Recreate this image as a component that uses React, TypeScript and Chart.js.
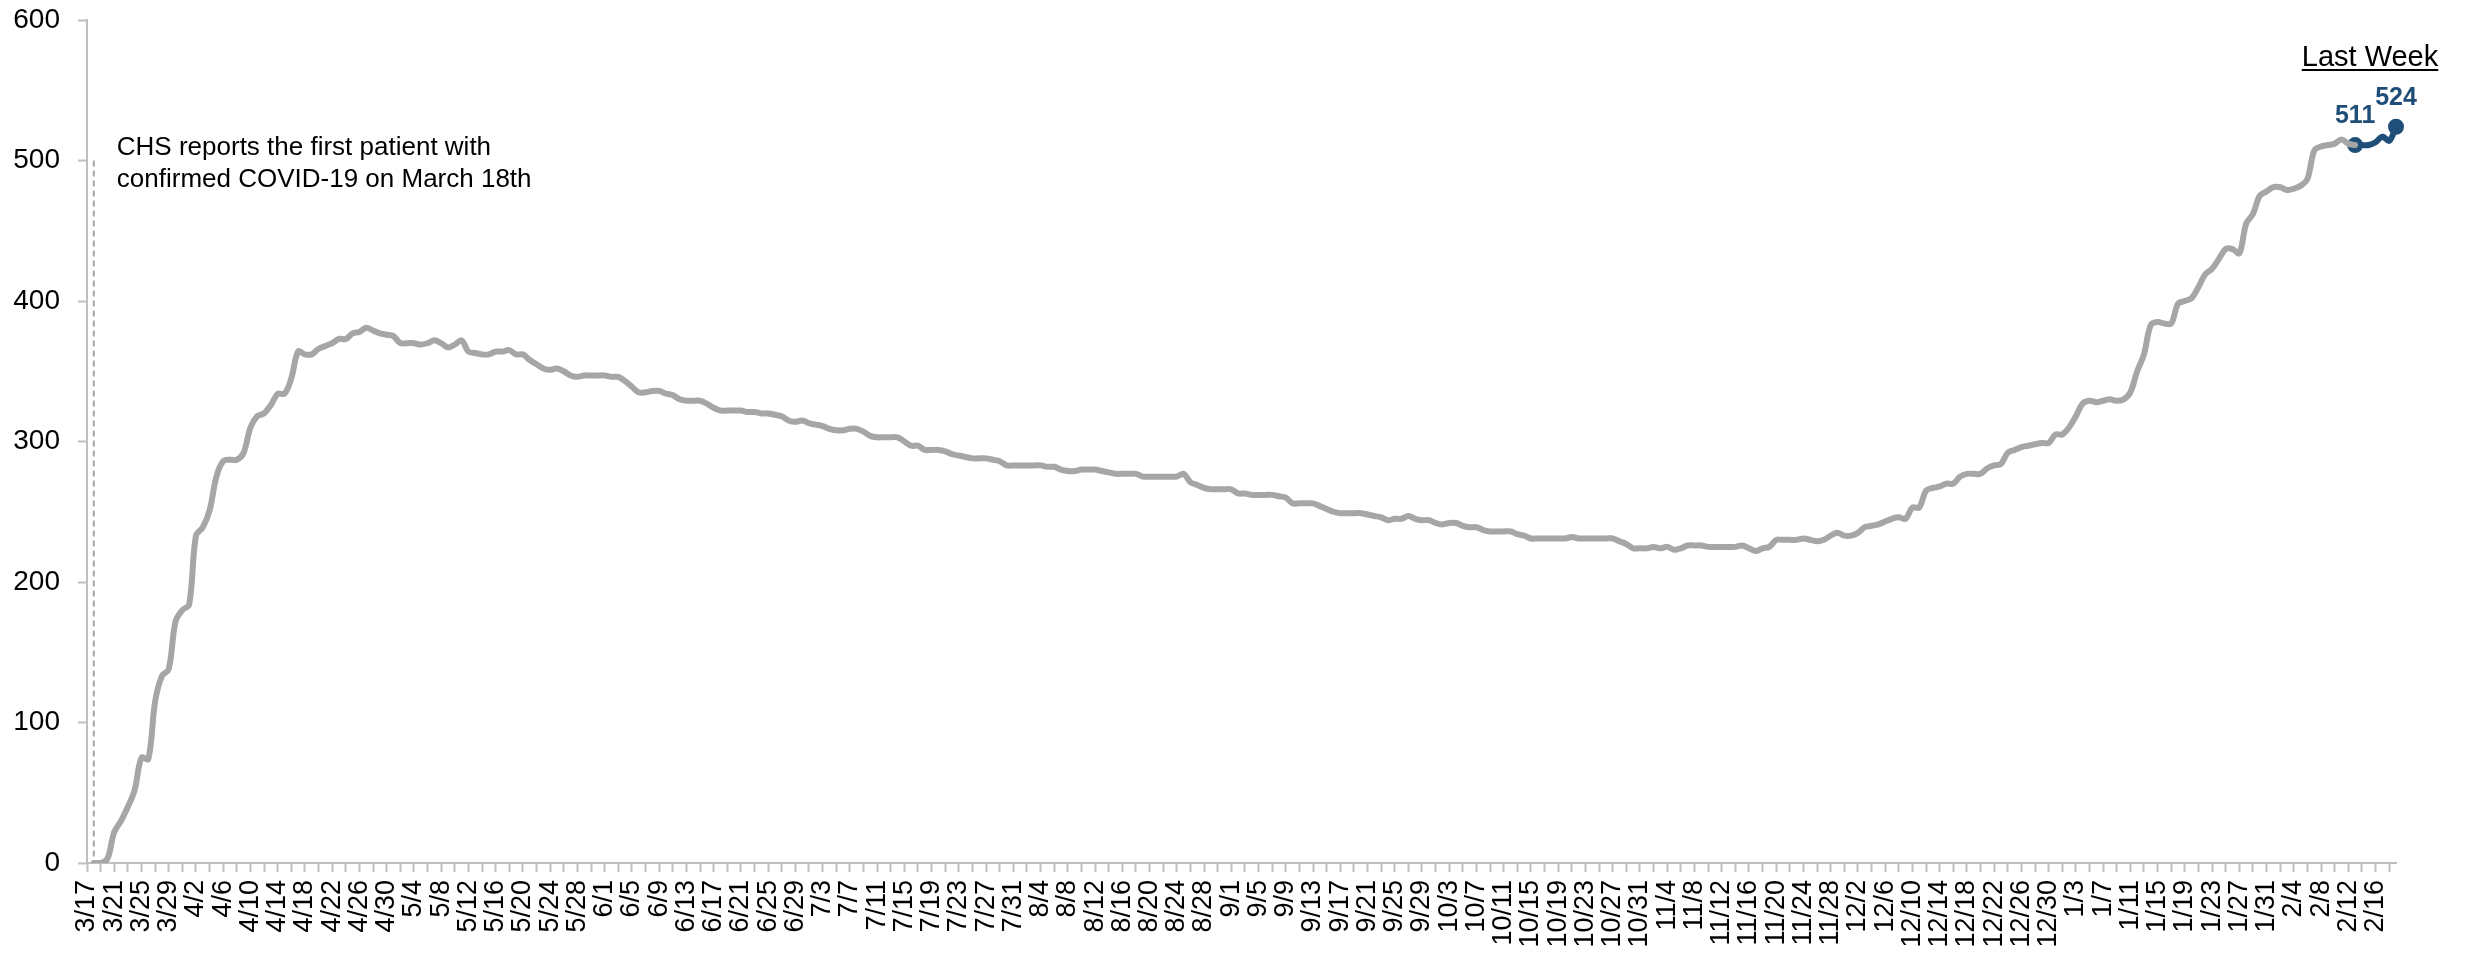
import React, { useEffect, useRef } from 'react';
import { Chart, registerables } from 'chart.js';

Chart.register(...registerables);

// Category spans: [month, first day, last day]
const MONTH_SPANS: number[][] = [
  [3, 17, 31], [4, 1, 30], [5, 1, 31], [6, 1, 30], [7, 1, 31], [8, 1, 31],
  [9, 1, 30], [10, 1, 31], [11, 1, 30], [12, 1, 31], [1, 1, 31], [2, 1, 19],
];
const DATES: string[] = MONTH_SPANS.flatMap(([m, s, e]) =>
  Array.from({ length: e - s + 1 }, (_, i) => `${m}/${s + i}`)
);

const Y_TICKS = [0, 100, 200, 300, 400, 500, 600];

// Daily values (gray series, through 2/13)
const MAR = [null, 0, 0, 3, 22, 30, 40, 52, 75, 74, 115, 133, 138, 172, 180];
const APR = [184, 233, 239, 251, 275, 286, 287, 287, 292, 310, 318, 320, 326, 334, 334, 345, 364, 362, 362, 366, 368, 370, 373, 373, 377, 378, 381, 379, 377, 376];
const MAY = [375, 370, 370, 370, 369, 370, 372, 370, 367, 369, 372, 364, 363, 362, 362, 364, 364, 365, 362, 362, 358, 355, 352, 351, 352, 350, 347, 346, 347, 347, 347];
const JUN = [347, 346, 346, 343, 339, 335, 335, 336, 336, 334, 333, 330, 329, 329, 329, 327, 324, 322, 322, 322, 322, 321, 321, 320, 320, 319, 318, 315, 314, 315];
const JUL = [313, 312, 311, 309, 308, 308, 309, 309, 307, 304, 303, 303, 303, 303, 300, 297, 297, 294, 294, 294, 293, 291, 290, 289, 288, 288, 288, 287, 286, 283, 283];
const AUG = [283, 283, 283, 283, 282, 282, 280, 279, 279, 280, 280, 280, 279, 278, 277, 277, 277, 277, 275, 275, 275, 275, 275, 275, 277, 271, 269, 267, 266, 266, 266];
const SEP = [266, 263, 263, 262, 262, 262, 262, 261, 260, 256, 256, 256, 256, 254, 252, 250, 249, 249, 249, 249, 248, 247, 246, 244, 245, 245, 247, 245, 244, 244];
const OCT = [242, 241, 242, 242, 240, 239, 239, 237, 236, 236, 236, 236, 234, 233, 231, 231, 231, 231, 231, 231, 232, 231, 231, 231, 231, 231, 231, 229, 227, 224, 224];
const NOV = [224, 225, 224, 225, 223, 224, 226, 226, 226, 225, 225, 225, 225, 225, 226, 224, 222, 224, 225, 230, 230, 230, 230, 231, 230, 229, 230, 233, 235, 233];
const DEC = [233, 235, 239, 240, 241, 243, 245, 246, 245, 253, 253, 265, 267, 268, 270, 270, 275, 277, 277, 277, 281, 283, 284, 292, 294, 296, 297, 298, 299, 299, 305];
const JAN = [305, 310, 318, 327, 329, 328, 329, 330, 329, 330, 335, 350, 362, 383, 385, 384, 384, 398, 400, 402, 410, 419, 423, 430, 437, 437, 434, 455, 462, 475, 478];
const FEB = [481, 481, 479, 480, 482, 487, 507, 510, 511, 512, 515, 512, 511];

// Last week (2/13 - 2/19), highlighted
const LAST_WEEK = [511, 511, 511, 513, 517, 514, 524];

const GRAY = '#A6A6A6';
const BLUE = '#1F4E79';
const AXIS = '#BFBFBF';
const FONT = '"Liberation Sans", Arial, sans-serif';

export default function App() {
  const ref = useRef<HTMLCanvasElement | null>(null);

  useEffect(() => {
    if (!ref.current) return;
    const history = [...MAR, ...APR, ...MAY, ...JUN, ...JUL, ...AUG, ...SEP, ...OCT, ...NOV, ...DEC, ...JAN, ...FEB];
    const grayData = DATES.map((_, i) => (i < history.length ? history[i] : null));
    const startLast = DATES.length - LAST_WEEK.length;
    const blueData = DATES.map((_, i) => (i >= startLast ? LAST_WEEK[i - startLast] : null));

    const overlay = {
      id: 'overlay',
      afterDatasetsDraw(chart: any) {
        const { ctx, scales } = chart;
        const xs = scales.x;
        const ys = scales.y;
        ctx.save();
        // dashed marker at 3/18
        const xd = xs.getPixelForValue(1);
        ctx.strokeStyle = GRAY;
        ctx.lineWidth = 2;
        ctx.setLineDash([6, 4]);
        ctx.beginPath();
        ctx.moveTo(xd, ys.getPixelForValue(500));
        ctx.lineTo(xd, ys.getPixelForValue(0));
        ctx.stroke();
        ctx.setLineDash([]);

        // annotation
        ctx.fillStyle = '#000';
        ctx.font = `26px ${FONT}`;
        ctx.textAlign = 'left';
        ctx.textBaseline = 'alphabetic';
        ctx.fillText('CHS reports the first patient with', xd + 23, 155);
        ctx.fillText('confirmed COVID-19 on March 18th', xd + 23, 187);

        // Last Week header
        ctx.font = `29px ${FONT}`;
        ctx.textAlign = 'center';
        const cx = 2370;
        ctx.fillText('Last Week', cx, 66);
        const w = ctx.measureText('Last Week').width;
        ctx.fillRect(cx - w / 2, 69, w, 2);

        // data labels
        const meta = chart.getDatasetMeta(1);
        ctx.fillStyle = BLUE;
        ctx.font = `bold 25px ${FONT}`;
        [startLast, DATES.length - 1].forEach((i) => {
          const p = meta.data[i];
          const v = blueData[i];
          if (p && v != null) ctx.fillText(String(v), p.x, p.y - 22);
        });
        ctx.restore();
      },
    };

    const chart = new Chart(ref.current, {
      type: 'line',
      data: {
        labels: DATES,
        datasets: [
          {
            data: grayData,
            borderColor: GRAY,
            borderWidth: 6,
            pointRadius: 0,
            tension: 0.35,
            borderCapStyle: 'round',
            borderJoinStyle: 'round',
            spanGaps: false,
          },
          {
            data: blueData,
            borderColor: BLUE,
            backgroundColor: BLUE,
            borderWidth: 6,
            pointRadius: (c: any) => (c.dataIndex === startLast || c.dataIndex === DATES.length - 1 ? 8 : 0),
            pointBorderWidth: 0,
            pointBackgroundColor: BLUE,
            tension: 0.35,
            borderCapStyle: 'round',
            borderJoinStyle: 'round',
          },
        ],
      },
      options: {
        animation: false,
        responsive: false,
        devicePixelRatio: 1,
        layout: { padding: { left: 0, right: 70, top: 20, bottom: 0 } },
        plugins: { legend: { display: false }, tooltip: { enabled: false } },
        scales: {
          x: {
            type: 'category',
            offset: false,
            border: { color: AXIS, width: 2 },
            grid: {
              drawOnChartArea: false,
              drawTicks: true,
              tickLength: 9,
              tickWidth: 2,
              tickColor: (c: any) => (c.index % 2 === 0 ? AXIS : 'rgba(0,0,0,0)'),
            },
            ticks: {
              autoSkip: false,
              maxRotation: 90,
              minRotation: 90,
              padding: 8,
              color: '#000',
              font: { family: FONT, size: 27 },
              callback: (_v: any, i: number) => (i % 4 === 0 ? DATES[i] : ''),
            },
            afterFit: (s: any) => {
              s.height = 93;
              s.paddingLeft = 0;
              s.paddingRight = 0;
            },
          },
          y: {
            min: 0,
            max: 600,
            border: { color: AXIS, width: 2 },
            grid: { drawOnChartArea: false, tickLength: 9, tickWidth: 2, tickColor: AXIS },
            afterBuildTicks: (s: any) => {
              s.ticks = Y_TICKS.map((v) => ({ value: v }));
            },
            ticks: {
              padding: 18,
              color: '#000',
              font: { family: FONT, size: 28 },
            },
            afterFit: (s: any) => {
              s.width = 87;
              s.paddingTop = 0;
              s.paddingBottom = 0;
            },
          },
        },
      },
      plugins: [overlay],
    } as any);

    return () => chart.destroy();
  }, []);

  return (
    <div style={{ position: 'fixed', left: 0, top: 0, width: 2466, height: 956, background: '#fff' }}>
      <canvas ref={ref} width={2466} height={956} style={{ width: 2466, height: 956 }} />
    </div>
  );
}
